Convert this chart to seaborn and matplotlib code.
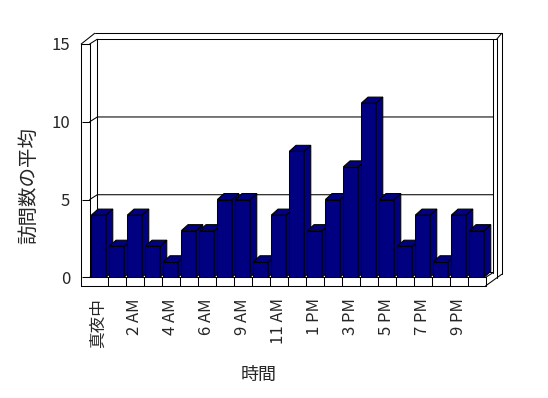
import matplotlib
matplotlib.use("Agg")
import matplotlib.pyplot as plt
import numpy as np
import seaborn as sns
from matplotlib.lines import Line2D
from matplotlib.patches import Polygon
from matplotlib.transforms import IdentityTransform

# average visits per hour
hours = [
    "真夜中", "1 AM", "2 AM", "3 AM", "4 AM", "5 AM", "6 AM", "8 AM",
    "9 AM", "10 AM", "11 AM", "正午", "1 PM", "2 PM", "3 PM", "4 PM",
    "5 PM", "6 PM", "7 PM", "8 PM", "9 PM", "10 PM",
]
visits = [4, 2, 4, 2, 1, 3, 3, 5, 5, 1, 4, 8.1, 3, 5, 7.1, 11.2, 5, 2, 4, 1, 4, 3]
y_ticks = [0, 5, 10, 15]

BAR_COLOR = "#000080"
LW = 0.75

sns.set_theme(style="white")
plt.rcParams["font.family"] = ["Noto Sans CJK JP", "DejaVu Sans"]

fig = plt.figure(figsize=(5.48, 3.98), dpi=100)
ax = fig.add_axes([89.7 / 548, 120.7 / 398, 396 / 548, 233.3 / 398])
ax.set_facecolor("none")

sns.barplot(x=hours, y=visits, color=BAR_COLOR, saturation=1, width=0.82,
            edgecolor="black", linewidth=LW, ax=ax)

ax.set_xlim(-0.5, len(hours) - 0.5)
ax.set_ylim(0, 15)
ax.set_yticks(y_ticks)
ax.set_yticklabels([str(t) for t in y_ticks], fontsize=12)
ax.set_xticks(range(0, len(hours), 2))
ax.set_xticklabels(hours[::2], rotation=90, fontsize=12)
ax.set_xticks(np.arange(0.5, len(hours), 1), minor=True)
ax.tick_params(axis="x", which="major", length=0, pad=15)
ax.tick_params(axis="x", which="minor", direction="out", length=6.3, width=LW, color="black", bottom=True)
ax.tick_params(axis="y", direction="out", length=6, width=LW, color="black", pad=8, left=True)

for side in ("top", "right"):
    ax.spines[side].set_visible(False)
for side in ("left", "bottom"):
    ax.spines[side].set_color("black")
    ax.spines[side].set_linewidth(LW)

ax.set_xlabel("時間", fontsize=13)
ax.set_ylabel("訪問数の平均", fontsize=14)
ax.xaxis.set_label_coords(0.4275, -0.419)
ax.yaxis.set_label_coords(-0.153, 0.393)
ax.xaxis.label.set_va("center")
ax.yaxis.label.set_va("center")

# 3D-style frame, built from the axes box in display pixels
ident = IdentityTransform()
(L, B), (R, T) = ax.transAxes.transform([(0, 0), (1, 1)])
dx, dy = 7.6, 4.8          # wall depth
slab = 8.5                 # wall / floor thickness


def seg(xs, ys, z=1):
    ax.add_line(Line2D(xs, ys, color="black", lw=LW, transform=ident, clip_on=False, zorder=z))


seg([L - slab, L - slab], [T, B - slab])
seg([L - slab, R], [B - slab, B - slab])
seg([L - slab, L], [T, T])
seg([L - slab, L + 5], [T, T + 10.7])
seg([L + 5, R + 16], [T + 10.7, T + 10.7])
seg([L, L + dx], [T, T + dy])
seg([L + dx, R + 11], [T + dy, T + dy])
seg([L + dx, L + dx], [T + dy, B + dy])
seg([R + dx, R + dx], [T + dy, B + dy])
seg([R + 11, R + 11], [T + dy, B - 0.7])
seg([R + 16, R + 16], [T + 10.7, B + 3])
seg([R + 16, R + 11], [T + 10.7, T + dy])
seg([R, R + 16], [B - slab, B + 3])
seg([R, R + dx], [B, B + dy])
for t in y_ticks[:-1]:
    yd = ax.transData.transform((0, t))[1]
    seg([L, L + dx, R + dx], [yd, yd + dy, yd + dy])

# side and top faces for each bar
bdx, bdy = 6.7, 6.0
for i, p in enumerate(ax.patches):
    (x0, y0), (x1, y1) = ax.transData.transform(
        [(p.get_x(), p.get_y()), (p.get_x() + p.get_width(), p.get_y() + p.get_height())])
    z = 3 + i * 0.01
    p.set_zorder(z)
    side = Polygon([(x1, y0), (x1, y1), (x1 + bdx, y1 + bdy), (x1 + bdx, y0 + bdy)],
                   closed=True, facecolor=BAR_COLOR, edgecolor="black", lw=LW,
                   transform=ident, clip_on=False, zorder=z + 0.001)
    top = Polygon([(x0, y1), (x1, y1), (x1 + bdx, y1 + bdy), (x0 + bdx, y1 + bdy)],
                  closed=True, facecolor=BAR_COLOR, edgecolor="black", lw=LW,
                  transform=ident, clip_on=False, zorder=z + 0.002)
    ax.add_patch(side)
    ax.add_patch(top)

fig.savefig("out.png", dpi=100)
